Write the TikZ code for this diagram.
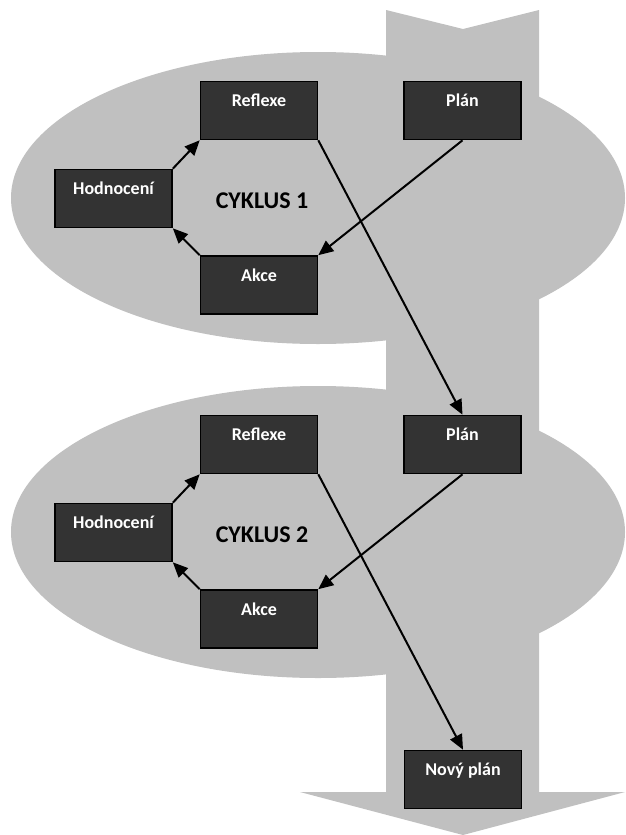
\documentclass[tikz,border=0pt]{standalone}
\usepackage{fontspec}
\setmainfont{Carlito}
\usetikzlibrary{arrows.meta}
\definecolor{greyfill}{HTML}{C0C0C0}
\definecolor{boxfill}{HTML}{333333}
\begin{document}
\begin{tikzpicture}[x=1pt,y=-1pt,
  stepbox/.style={draw=black, line width=1.6pt, fill=boxfill, text=white,
    font=\bfseries\fontsize{18}{20}\selectfont, minimum width=117pt, minimum height=58pt,
    inner xsep=0pt, inner ysep=0pt, text height=25pt, text depth=33pt},
  link/.style={draw=black, line width=2pt, -{Triangle[length=15pt,width=13pt]}},
  cyc/.style={font=\bfseries\fontsize{24}{28}\selectfont, inner sep=0pt}]
\useasboundingbox (0,0) rectangle (625,835);
\fill[white] (0,0) rectangle (625,835);
% big arrow
\fill[greyfill] (386,10) -- (463,29) -- (539,10) -- (539,792) -- (625,792) -- (463,835)
  -- (300,792) -- (386,792) -- cycle;
% ellipses
\fill[greyfill] (318,198) ellipse [x radius=307, y radius=146];
\fill[greyfill] (318,532) ellipse [x radius=307, y radius=146];
% cycle 1
\node[stepbox] (r1) at (259,110.5) {Reflexe};
\node[stepbox] (p1) at (462.5,110.5) {Plán};
\node[stepbox] (h1) at (113.5,198.5) {Hodnocení};
\node[stepbox] (a1) at (259,285) {Akce};
\node[cyc] (c1) at (262,200.5) {CYKLUS 1};
% cycle 2
\node[stepbox] (r2) at (259,444.5) {Reflexe};
\node[stepbox] (p2) at (462.5,444.5) {Plán};
\node[stepbox] (h2) at (113.5,532.5) {Hodnocení};
\node[stepbox] (a2) at (259,619) {Akce};
\node[cyc] (c2) at (262,534.5) {CYKLUS 2};
% new plan
\node[stepbox] (np) at (463,779.5) {Nový plán};
% connectors
\draw[link] (h1.north east) -- (r1.south west);
\draw[link] (a1.north west) -- (h1.south east);
\draw[link] (p1.south) -- (a1.north east);
\draw[link] (r1.south east) -- (p2.north);
\draw[link] (h2.north east) -- (r2.south west);
\draw[link] (a2.north west) -- (h2.south east);
\draw[link] (p2.south) -- (a2.north east);
\draw[link] (r2.south east) -- (np.north);
\end{tikzpicture}
\end{document}
